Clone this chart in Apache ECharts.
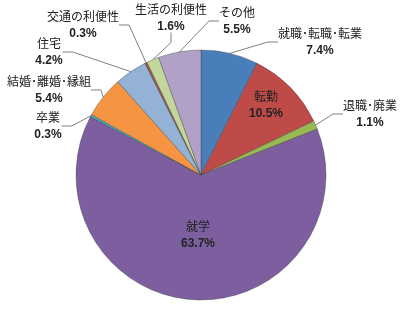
<!DOCTYPE html>
<html><head><meta charset="utf-8">
<script src="https://cdn.jsdelivr.net/npm/echarts@6/dist/echarts.min.js"></script>
<style>html,body{margin:0;padding:0;background:#fff}#c{width:406px;height:311px}</style>
</head><body><div id="c"></div>
<script>
// Data
const categories = ['就職･転職･転業','転勤','退職･廃業','就学','卒業','結婚･離婚･縁組','住宅','交通の利便性','生活の利便性','その他'];
const values = [7.4, 10.5, 1.1, 63.7, 0.3, 5.4, 4.2, 0.3, 1.6, 5.5];
const colors = ['#4A7EBB','#BE4B48','#98B954','#7D5FA0','#46AAC5','#F59443','#93B2D6','#A0574F','#C3D69B','#B2A1C7'];
// Label block centres (layout, not data)
const labelPos = [[320,42],[266,105],[370,114],[198,235],[48,126],[49,90],[49,52],[83,25],[171,18],[237,21]];
const insideIdx = [1,3];

const chart = echarts.init(document.getElementById('c'), null, {renderer:'canvas'});
const data = categories.map((n,i)=>{
  const inside = insideIdx.includes(i);
  return {
    name:n, value:values[i],
    itemStyle:{color:colors[i]},
    label:{position: inside ? 'inside' : 'outside'},
    labelLine:{show: !inside}
  };
});
chart.setOption({
  animation:false,
  series:[{
    type:'pie',
    center:[201,175],
    radius:125,
    startAngle:90,
    clockwise:true,
    data:data,
    itemStyle:{borderColor:'rgba(50,50,50,0.45)', borderWidth:0.8},
    label:{
      overflow:'none',
      width:200,
      formatter:(p)=>'{n|'+p.name+'}\n{p|'+p.value.toFixed(1)+'%}',
      rich:{
        n:{fontFamily:'"Noto Sans CJK JP"', fontSize:12, color:'#222', lineHeight:17, align:'center'},
        p:{fontFamily:'"Liberation Sans", Arial', fontWeight:'bold', fontSize:12, color:'#222', lineHeight:17, align:'center'}
      }
    },
    labelLine:{show:true, length:10, length2:10, lineStyle:{color:'#7f7f7f', width:1}},
    labelLayout:(params)=>{
      const p = labelPos[params.dataIndex];
      return {x:p[0], y:p[1], align:'center', verticalAlign:'middle', hideOverlap:false, moveOverlap:null};
    }
  }]
});
</script></body></html>
